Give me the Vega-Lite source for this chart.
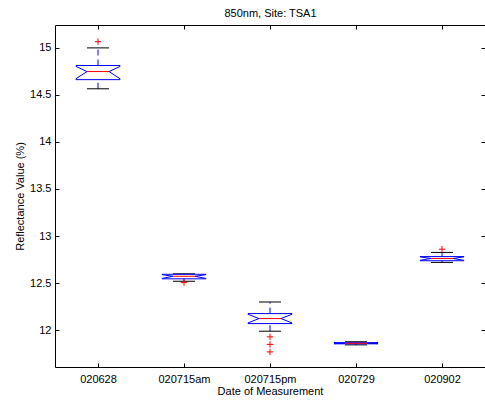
{
  "$schema": "https://vega.github.io/schema/vega-lite/v6.json",
  "width": 430,
  "height": 342,
  "autosize": {"type": "none"},
  "padding": {"left": 55, "top": 25, "right": 0, "bottom": 35},
  "background": "white",
  "config": {
    "font": "Liberation Sans",
    "view": {"stroke": "#000", "strokeWidth": 1},
    "axis": {"domain": false, "grid": false, "tickColor": "#000", "tickSize": -4, "labelFontSize": 11, "labelColor": "#000", "labelFont": "Liberation Sans", "titleFontSize": 11, "titleFontWeight": "normal", "titleColor": "#000", "titleFont": "Liberation Sans"}
  },
  "datasets": {
    "boxes": [
      {"date": "020628", "pos": 1, "lo": 14.563, "q1": 14.66, "nlo": 14.67, "med": 14.746, "nhi": 14.80, "q3": 14.81, "hi": 14.997},
      {"date": "020715am", "pos": 2, "lo": 12.52, "q1": 12.546, "nlo": 12.55, "med": 12.573, "nhi": 12.59, "q3": 12.594, "hi": 12.599},
      {"date": "020715pm", "pos": 3, "lo": 11.99, "q1": 12.071, "nlo": 12.078, "med": 12.124, "nhi": 12.17, "q3": 12.177, "hi": 12.30},
      {"date": "020729", "pos": 4, "lo": 11.845, "q1": 11.856, "nlo": 11.858, "med": 11.862, "nhi": 11.866, "q3": 11.868, "hi": 11.878},
      {"date": "020902", "pos": 5, "lo": 12.72, "q1": 12.738, "nlo": 12.742, "med": 12.762, "nhi": 12.779, "q3": 12.782, "hi": 12.826}
    ],
    "outliers": [
      {"date": "020628", "pos": 1, "value": 15.063},
      {"date": "020715am", "pos": 2, "value": 12.506},
      {"date": "020715pm", "pos": 3, "value": 11.93},
      {"date": "020715pm", "pos": 3, "value": 11.85},
      {"date": "020715pm", "pos": 3, "value": 11.77},
      {"date": "020902", "pos": 5, "value": 12.86}
    ]
  },
  "data": {"name": "boxes"},
  "encoding": {
    "x": {"field": "pos", "type": "quantitative", "scale": {"domain": [0.5, 5.5]}, "axis": null}
  },
  "layer": [
    {
      "mark": {"type": "rule", "color": "#0000ff", "strokeDash": [6, 4], "strokeWidth": 1},
      "encoding": {
        "x": {"field": "pos", "type": "quantitative", "scale": {"domain": [0.5, 5.5]},
              "axis": {"orient": "bottom", "values": [1, 2, 3, 4, 5], "labelExpr": "['020628','020715am','020715pm','020729','020902'][datum.value-1]", "labelPadding": 10, "title": "Date of Measurement", "titleX": 215, "titleY": 24, "titleBaseline": "middle", "titleAnchor": "middle"}},
        "y": {"field": "q3", "type": "quantitative", "scale": {"domain": [11.61, 15.24], "nice": false, "zero": false},
              "axis": {"orient": "left", "values": [12, 12.5, 13, 13.5, 14, 14.5, 15], "format": "~g", "labelPadding": 8, "title": "Reflectance Value (%)", "titleX": -35, "titleY": 171, "titleBaseline": "middle", "titleAngle": -90}},
        "y2": {"field": "hi"}
      }
    },
    {
      "mark": {"type": "rule", "color": "#0000ff", "strokeDash": [6, 4], "strokeWidth": 1},
      "encoding": {
        "y": {"field": "lo", "type": "quantitative", "scale": {"domain": [11.61, 15.24], "nice": false, "zero": false}, "axis": null},
        "y2": {"field": "q1"}
      }
    },
    {
      "mark": {"type": "rule", "color": "#000000", "strokeWidth": 1, "xOffset": -11, "x2Offset": 11},
      "encoding": {
        "y": {"field": "hi", "type": "quantitative", "scale": {"domain": [11.61, 15.24], "nice": false, "zero": false}, "axis": null},
        "x2": {"field": "pos"}
      }
    },
    {
      "mark": {"type": "rule", "color": "#000000", "strokeWidth": 1, "xOffset": -11, "x2Offset": 11},
      "encoding": {
        "y": {"field": "lo", "type": "quantitative", "scale": {"domain": [11.61, 15.24], "nice": false, "zero": false}, "axis": null},
        "x2": {"field": "pos"}
      }
    },
    {
      "mark": {"type": "rule", "color": "#0000ff", "strokeWidth": 1, "xOffset": -22, "x2Offset": 22},
      "encoding": {
        "y": {"field": "q3", "type": "quantitative", "scale": {"domain": [11.61, 15.24], "nice": false, "zero": false}, "axis": null},
        "x2": {"field": "pos"}
      }
    },
    {
      "mark": {"type": "rule", "color": "#0000ff", "strokeWidth": 1, "xOffset": -22, "x2Offset": 22},
      "encoding": {
        "y": {"field": "q1", "type": "quantitative", "scale": {"domain": [11.61, 15.24], "nice": false, "zero": false}, "axis": null},
        "x2": {"field": "pos"}
      }
    },
    {
      "mark": {"type": "rule", "color": "#0000ff", "strokeWidth": 1, "xOffset": -22, "x2Offset": -22},
      "encoding": {
        "y": {"field": "q3", "type": "quantitative", "scale": {"domain": [11.61, 15.24], "nice": false, "zero": false}, "axis": null},
        "y2": {"field": "nhi"}, "x2": {"field": "pos"}
      }
    },
    {
      "mark": {"type": "rule", "color": "#0000ff", "strokeWidth": 1, "xOffset": 22, "x2Offset": 22},
      "encoding": {
        "y": {"field": "q3", "type": "quantitative", "scale": {"domain": [11.61, 15.24], "nice": false, "zero": false}, "axis": null},
        "y2": {"field": "nhi"}, "x2": {"field": "pos"}
      }
    },
    {
      "mark": {"type": "rule", "color": "#0000ff", "strokeWidth": 1, "xOffset": -22, "x2Offset": -11},
      "encoding": {
        "y": {"field": "nhi", "type": "quantitative", "scale": {"domain": [11.61, 15.24], "nice": false, "zero": false}, "axis": null},
        "y2": {"field": "med"}, "x2": {"field": "pos"}
      }
    },
    {
      "mark": {"type": "rule", "color": "#0000ff", "strokeWidth": 1, "xOffset": 22, "x2Offset": 11},
      "encoding": {
        "y": {"field": "nhi", "type": "quantitative", "scale": {"domain": [11.61, 15.24], "nice": false, "zero": false}, "axis": null},
        "y2": {"field": "med"}, "x2": {"field": "pos"}
      }
    },
    {
      "mark": {"type": "rule", "color": "#0000ff", "strokeWidth": 1, "xOffset": -11, "x2Offset": -22},
      "encoding": {
        "y": {"field": "med", "type": "quantitative", "scale": {"domain": [11.61, 15.24], "nice": false, "zero": false}, "axis": null},
        "y2": {"field": "nlo"}, "x2": {"field": "pos"}
      }
    },
    {
      "mark": {"type": "rule", "color": "#0000ff", "strokeWidth": 1, "xOffset": 11, "x2Offset": 22},
      "encoding": {
        "y": {"field": "med", "type": "quantitative", "scale": {"domain": [11.61, 15.24], "nice": false, "zero": false}, "axis": null},
        "y2": {"field": "nlo"}, "x2": {"field": "pos"}
      }
    },
    {
      "mark": {"type": "rule", "color": "#0000ff", "strokeWidth": 1, "xOffset": -22, "x2Offset": -22},
      "encoding": {
        "y": {"field": "nlo", "type": "quantitative", "scale": {"domain": [11.61, 15.24], "nice": false, "zero": false}, "axis": null},
        "y2": {"field": "q1"}, "x2": {"field": "pos"}
      }
    },
    {
      "mark": {"type": "rule", "color": "#0000ff", "strokeWidth": 1, "xOffset": 22, "x2Offset": 22},
      "encoding": {
        "y": {"field": "nlo", "type": "quantitative", "scale": {"domain": [11.61, 15.24], "nice": false, "zero": false}, "axis": null},
        "y2": {"field": "q1"}, "x2": {"field": "pos"}
      }
    },
    {
      "mark": {"type": "rule", "color": "#ff0000", "strokeWidth": 1, "xOffset": -11, "x2Offset": 11},
      "encoding": {
        "y": {"field": "med", "type": "quantitative", "scale": {"domain": [11.61, 15.24], "nice": false, "zero": false}, "axis": null},
        "x2": {"field": "pos"}
      }
    },
    {
      "data": {"name": "outliers"},
      "mark": {"type": "point", "shape": "M-1,0L1,0M0,-1L0,1", "filled": false, "stroke": "#ff0000", "strokeWidth": 1, "size": 40, "opacity": 1},
      "encoding": {
        "y": {"field": "value", "type": "quantitative", "scale": {"domain": [11.61, 15.24], "nice": false, "zero": false}, "axis": null}
      }
    },
    {
      "mark": {"type": "point", "opacity": 0},
      "encoding": {
        "x": {"field": "pos", "type": "quantitative", "scale": {"domain": [0.5, 5.5]},
              "axis": {"orient": "top", "values": [1, 2, 3, 4, 5], "labels": false, "title": "850nm, Site: TSA1", "titleX": 215, "titleY": -9, "titleBaseline": "alphabetic", "titleAnchor": "middle", "titleAlign": "center"}},
        "y": {"field": "med", "type": "quantitative", "scale": {"domain": [11.61, 15.24], "nice": false, "zero": false},
              "axis": {"orient": "right", "values": [12, 12.5, 13, 13.5, 14, 14.5, 15], "labels": false, "title": null}}
      }
    }
  ],
  "resolve": {"axis": {"x": "independent", "y": "independent"}}
}
